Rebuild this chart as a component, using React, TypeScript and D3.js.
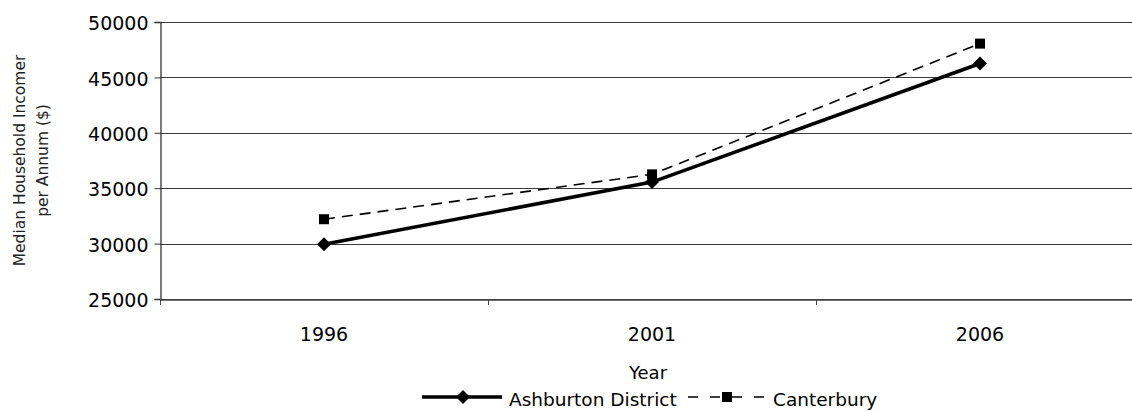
import React, { useEffect, useRef } from 'react';
import * as d3 from 'd3';

const years = ['1996', '2001', '2006'];
const ashburton = [29950, 35550, 46250];
const canterbury = [32200, 36250, 48050];
const yTicks = [25000, 30000, 35000, 40000, 45000, 50000];

export default function App() {
  const svgRef = useRef<SVGSVGElement>(null);

  useEffect(() => {
    if (!svgRef.current) return;
    const svg = d3.select(svgRef.current);
    svg.selectAll('*').remove();

    const font = '"DejaVu Sans", Verdana, sans-serif';
    const left = 160;
    const right = 1144;
    const top = 22;
    const bottom = 299;

    const x = d3.scaleBand<string>().domain(years).range([left, right]);
    const y = d3.scaleLinear().domain([25000, 50000]).range([bottom, top]);
    const cx = (d: string) => (x(d) || 0) + x.bandwidth() / 2;

    // gridlines
    svg.append('g')
      .selectAll('line')
      .data(yTicks)
      .join('line')
      .attr('x1', left)
      .attr('x2', right)
      .attr('y1', d => Math.round(y(d)) + 0.5)
      .attr('y2', d => Math.round(y(d)) + 0.5)
      .attr('stroke', '#3a3a3a')
      .attr('stroke-width', 1.1);

    // y axis
    const yAxis = svg.append('g')
      .attr('transform', `translate(${left + 0.5},0)`)
      .call(d3.axisLeft(y).tickValues(yTicks).tickSize(6).tickPadding(6).tickFormat(d3.format('d')));
    yAxis.select('.domain').attr('stroke', '#333').attr('stroke-width', 1.3);
    yAxis.selectAll('.tick line').attr('stroke', '#333');
    yAxis.selectAll('.tick text')
      .attr('font-family', font)
      .attr('font-size', 19)
      .attr('fill', '#000')
      .attr('dy', '0.4em');

    // x axis
    const xAxis = svg.append('g')
      .attr('transform', `translate(0,${Math.round(bottom) + 0.5})`)
      .call(d3.axisBottom(x).tickSize(0).tickPadding(0));
    xAxis.select('.domain').attr('stroke', '#444').attr('stroke-width', 1.6);
    xAxis.selectAll('.tick text')
      .attr('font-family', font)
      .attr('font-size', 19)
      .attr('fill', '#000')
      .attr('y', 41)
      .attr('dy', 0);
    // category boundary ticks
    svg.append('g')
      .selectAll('line')
      .data(years)
      .join('line')
      .attr('x1', d => Math.round(x(d) || 0) + 0.5)
      .attr('x2', d => Math.round(x(d) || 0) + 0.5)
      .attr('y1', bottom)
      .attr('y2', bottom + 6)
      .attr('stroke', '#444');

    // axis titles
    svg.append('text')
      .attr('x', (left + right) / 2 - 4)
      .attr('y', 379)
      .attr('text-anchor', 'middle')
      .attr('font-family', font)
      .attr('font-size', 18)
      .text('Year');

    const yTitle = svg.append('text')
      .attr('transform', `translate(25,${(top + bottom) / 2}) rotate(-90)`)
      .attr('text-anchor', 'middle')
      .attr('font-family', font)
      .attr('font-size', 15.5)
      .attr('fill', '#222');
    yTitle.append('tspan').attr('x', 0).attr('y', 0).text('Median Household Incomer');
    yTitle.append('tspan').attr('x', 0).attr('y', 23).text('per Annum ($)');

    const line = d3.line<number>()
      .x((_, i) => cx(years[i]))
      .y(d => y(d));

    // Canterbury (dashed, squares)
    svg.append('path')
      .datum(canterbury)
      .attr('fill', 'none')
      .attr('stroke', '#000')
      .attr('stroke-width', 1.6)
      .attr('stroke-dasharray', '11,7')
      .attr('d', line);
    svg.append('g')
      .selectAll('rect')
      .data(canterbury)
      .join('rect')
      .attr('x', (_, i) => cx(years[i]) - 5)
      .attr('y', d => y(d) - 5)
      .attr('width', 10)
      .attr('height', 10)
      .attr('fill', '#000');

    // Ashburton (solid, diamonds)
    svg.append('path')
      .datum(ashburton)
      .attr('fill', 'none')
      .attr('stroke', '#000')
      .attr('stroke-width', 3.6)
      .attr('d', line);
    const diamond = (px: number, py: number, r: number) =>
      `M${px},${py - r}L${px + r},${py}L${px},${py + r}L${px - r},${py}Z`;
    svg.append('g')
      .selectAll('path')
      .data(ashburton)
      .join('path')
      .attr('d', (d, i) => diamond(cx(years[i]), y(d), 7))
      .attr('fill', '#000');

    // legend
    const ly = 397;
    const legend = svg.append('g').attr('font-family', font).attr('font-size', 18.5);
    legend.append('line')
      .attr('x1', 422).attr('x2', 502).attr('y1', ly).attr('y2', ly)
      .attr('stroke', '#000').attr('stroke-width', 3.6);
    legend.append('path').attr('d', diamond(463, ly, 7)).attr('fill', '#000');
    legend.append('text').attr('x', 509).attr('y', ly + 9).text('Ashburton District');

    legend.append('line')
      .attr('x1', 688).attr('x2', 766).attr('y1', ly).attr('y2', ly)
      .attr('stroke', '#000').attr('stroke-width', 1.6)
      .attr('stroke-dasharray', '10,12');
    legend.append('rect').attr('x', 722).attr('y', ly - 5).attr('width', 10).attr('height', 10).attr('fill', '#000');
    legend.append('text').attr('x', 773).attr('y', ly + 9).text('Canterbury');
  }, []);

  return (
    <svg
      ref={svgRef}
      width={1132}
      height={411}
      style={{ position: 'absolute', left: 0, top: 0, background: '#fff' }}
    />
  );
}
